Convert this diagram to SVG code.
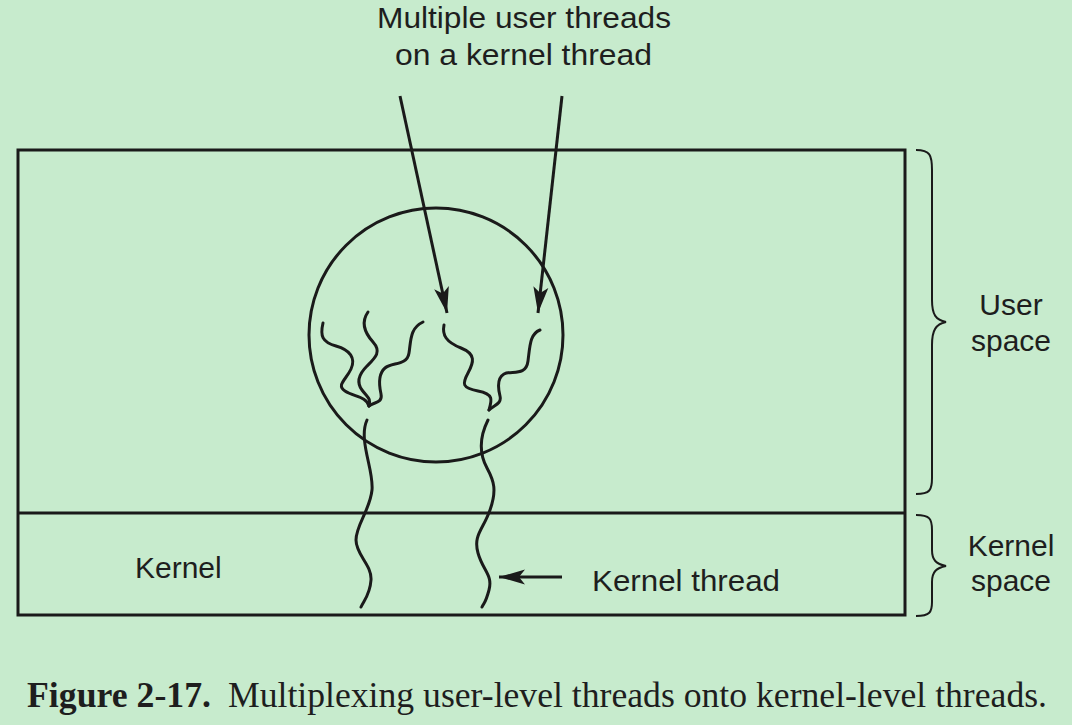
<svg xmlns="http://www.w3.org/2000/svg" width="1072" height="725" viewBox="0 0 1072 725">
<style>
.s{fill:none;stroke:#1a1a1a;stroke-width:3}
.t{fill:none;stroke:#1a1a1a;stroke-width:3;stroke-linecap:round}
.b{fill:none;stroke:#1a1a1a;stroke-width:2}
.l{font-family:"Liberation Sans",Arial,sans-serif;font-size:30px;fill:#1e1e1e}
.c{font-family:"Liberation Serif","Times New Roman",serif;font-size:35px;fill:#1e1e1e}
</style>
<defs>
<marker id="ah" markerUnits="userSpaceOnUse" markerWidth="28" markerHeight="18" refX="26" refY="9" orient="auto">
<path d="M0,1.5 L26,9 L0,16.5 L6,9 Z" fill="#1a1a1a"/>
</marker>
</defs>
<rect width="1072" height="725" fill="#c7ebcd"/>
<g id="frame">
<rect x="18" y="150" width="887" height="465" class="s"/>
<line x1="18" y1="513" x2="905" y2="513" class="s"/>
</g>
<g id="process">
<circle cx="436" cy="335" r="127" class="s"/>
</g>
<g id="user-threads">
<path class="t" d="M323,323 C320,336 322,342 336,346 S356,358 351,369 S336,385 345,391 S366,396 369,406"/>
<path class="t" d="M368,312 C361,322 364,332 373,342 S375,358 367,366 S356,382 362,390 S371,398 369,406"/>
<path class="t" d="M423,322 C410,328 411,340 409,353 S392,362 385,368 S379,385 381,394 S374,402 369,406"/>
<path class="t" d="M444,325 C442,335 446,342 461,348 S474,362 468,373 S462,388 478,391 S492,400 489,410"/>
<path class="t" d="M540,330 C530,334 530,345 528,361 S511,370 504,374 S498,388 500,396 S494,405 489,410"/>
</g>
<g id="kernel-threads">
<path class="t" d="M367,420 C358,440 374,470 372,490 S356,525 356,540 S372,565 371,580 S364,600 361,607"/>
<path class="t" d="M488,420 C478,440 480,455 487,468 S497,490 490,510 S473,535 478,553 S493,575 489,590 S484,602 482,607"/>
</g>
<g id="connectors">
<line x1="400" y1="96" x2="447" y2="313" class="s" marker-end="url(#ah)"/>
<line x1="562" y1="96" x2="538" y2="313" class="s" marker-end="url(#ah)"/>
<line x1="562" y1="577" x2="499" y2="577" class="s" marker-end="url(#ah)"/>
</g>
<g id="braces">
<path class="b" d="M916,150 C930,150 932,155 932,170 L932,300 C932,315 936,320 946,322 C936,324 932,330 932,345 L932,478 C932,490 930,494 916,494"/>
<path class="b" d="M916,515 C930,515 932,519 932,530 L932,550 C932,560 936,564 946,566 C936,568 932,572 932,582 L932,602 C932,612 930,616 916,616"/>
</g>
<g id="labels">
<text class="l" x="377" y="28" textLength="294" lengthAdjust="spacingAndGlyphs">Multiple user threads</text>
<text class="l" x="395" y="65" textLength="257" lengthAdjust="spacingAndGlyphs">on a kernel thread</text>
<text class="l" x="1011" y="315" text-anchor="middle">User</text>
<text class="l" x="1011" y="351" text-anchor="middle">space</text>
<text class="l" x="1011" y="556" text-anchor="middle">Kernel</text>
<text class="l" x="1011" y="591" text-anchor="middle">space</text>
<text class="l" x="135" y="578">Kernel</text>
<text class="l" x="592" y="591" textLength="188" lengthAdjust="spacingAndGlyphs">Kernel thread</text>
<text class="c" x="27" y="707" font-weight="bold" textLength="184" lengthAdjust="spacingAndGlyphs">Figure 2-17.</text>
<text class="c" x="228" y="707" textLength="819" lengthAdjust="spacingAndGlyphs">Multiplexing user-level threads onto kernel-level threads.</text>
</g>
</svg>
